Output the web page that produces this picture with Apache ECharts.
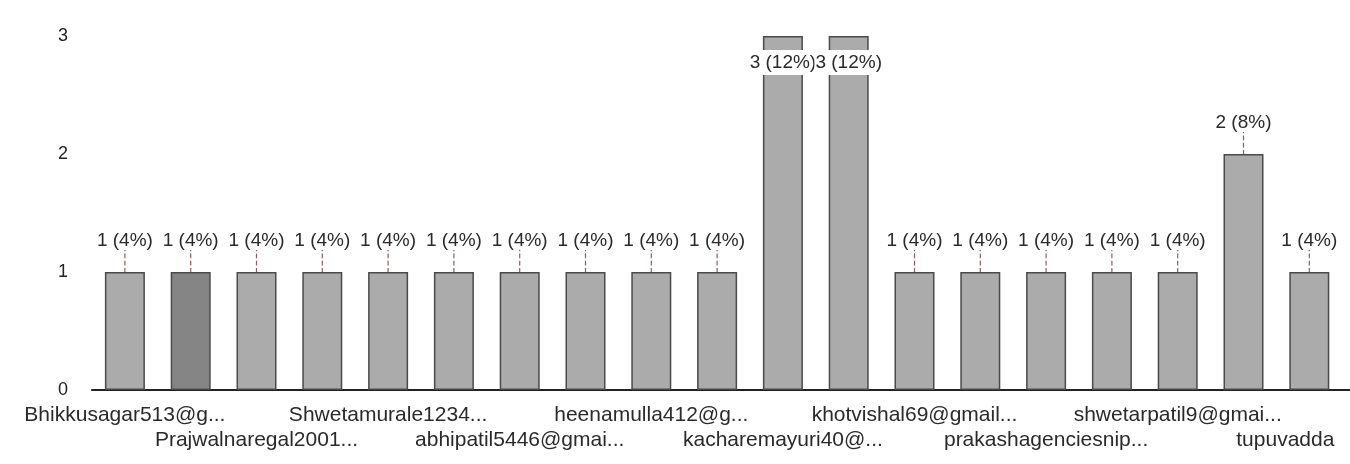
<!DOCTYPE html>
<html>
<head>
<meta charset="utf-8">
<style>
  html, body { margin: 0; padding: 0; background: #ffffff; overflow: hidden; }
  #chart { width: 1350px; height: 464px; }
</style>
<script src="https://cdn.jsdelivr.net/npm/echarts@6/dist/echarts.min.js"></script>
</head>
<body>
<div id="chart"></div>
<script>
// Respondents (axis shows every other name, staggered on two rows)
const respondents = [
  'Bhikkusagar513@g...', 'Dipalishinde07@g...', 'Prajwalnaregal2001...', 'Rohanmane2210@g...',
  'Shwetamurale1234...', 'Vaishnavipawar@g...', 'abhipatil5446@gmai...', 'ganeshkamble88@g...',
  'heenamulla412@g...', 'jyotichavan21@g...', 'kacharemayuri40@...', 'kavyadesai05@gma...',
  'khotvishal69@gmail...', 'nikhiljadhav11@g...', 'prakashagenciesnip...', 'sagarkumbhar@gm...',
  'shwetarpatil9@gmai...', 'snehalgaikwad3@g...', 'tupuvadda', 'vishalmore77@gma...'
];

// Number of responses per respondent
const responses = [1, 1, 1, 1, 1, 1, 1, 1, 1, 1, 3, 3, 1, 1, 1, 1, 1, 2, 1, 1];

// Value-axis ticks
const valueTicks = [0, 1, 2, 3];

const totalResponses = responses.reduce((a, b) => a + b, 0);
const maxResponses = Math.max(...responses);
const lastInView = 18; // the plot is wider than the page; later bars fall off the right edge

const barData = responses.map((v, i) => {
  const item = { value: v };
  if (i === 1) item.itemStyle = { color: '#858585' };
  if (v === maxResponses) {
    item.label = {
      position: 'insideTop',
      distance: 14,
      backgroundColor: '#ffffff',
      padding: [3, 1]
    };
  }
  if (i > lastInView) item.label = { show: false };
  return item;
});

// Axis entries; the last name in view is nudged left so it stays on the page
const axisData = respondents.map((name, i) =>
  i === lastInView ? { value: name, textStyle: { padding: [0, 48, 0, 0] } } : name
);

// Category-axis label style shared by both label rows
function rowLabels(offsetIdx, margin) {
  return {
    interval: (idx) => idx % 4 === offsetIdx,
    showMinLabel: true,
    showMaxLabel: true,
    hideOverlap: false,
    margin: margin,
    fontSize: 21,
    color: '#2a2a2a'
  };
}

const chart = echarts.init(document.getElementById('chart'), null, { renderer: 'canvas' });

chart.setOption({
  animation: false,
  backgroundColor: '#ffffff',
  textStyle: { fontFamily: 'Liberation Sans, Arial, sans-serif' },
  grid: { left: 92, top: 36, width: 1316, bottom: 74, containLabel: false, outerBoundsMode: 'none' },
  xAxis: [{
    type: 'category',
    data: axisData,
    position: 'bottom',
    axisLine: { show: true, lineStyle: { color: '#222222', width: 2 } },
    axisTick: { show: false },
    axisLabel: rowLabels(0, 15),
    splitLine: { show: false }
  }, {
    type: 'category',
    data: axisData,
    position: 'bottom',
    axisLine: { show: false },
    axisTick: { show: false },
    axisLabel: rowLabels(2, 40),
    splitLine: { show: false }
  }],
  yAxis: {
    type: 'value',
    min: valueTicks[0],
    max: valueTicks[valueTicks.length - 1],
    interval: 1,
    axisLine: { show: false },
    axisTick: { show: false },
    splitLine: { show: false },
    axisLabel: { fontSize: 18, color: '#222222', margin: 24 }
  },
  series: [{
    type: 'bar',
    xAxisIndex: 0,
    data: barData,
    barWidth: 40,
    itemStyle: {
      color: '#ababab',
      borderColor: '#4a4a4a',
      borderWidth: 1.5
    },
    label: {
      show: true,
      position: 'top',
      distance: 4,
      fontSize: 19,
      color: '#2a2a2a',
      formatter: (p) => p.value + ' (' + Math.round(p.value / totalResponses * 100) + '%)'
    },
    labelLayout: (params) => (responses[params.dataIndex] === maxResponses ? {} : { dy: -18 }),
    labelLine: {
      show: true,
      length2: 0,
      lineStyle: { color: '#8c5c5c', width: 1.2, type: 'dashed' }
    }
  }]
});
</script>
</body>
</html>
